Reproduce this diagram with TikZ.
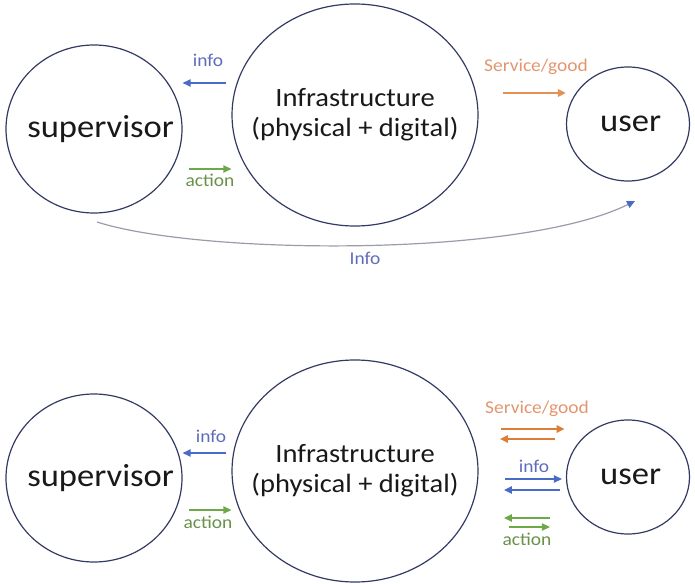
\documentclass[tikz,border=0pt]{standalone}
\usepackage{fontspec}
\setmainfont{Carlito}[FakeStretch=1.08]
\usetikzlibrary{arrows.meta,positioning,shapes.geometric,calc}
\definecolor{ringcol}{RGB}{50,58,100}
\definecolor{textcol}{RGB}{25,25,25}
\definecolor{infocol}{RGB}{72,108,198}
\definecolor{infotxt}{RGB}{95,108,188}
\definecolor{actcol}{RGB}{110,168,72}
\definecolor{acttxt}{RGB}{105,145,72}
\definecolor{servcol}{RGB}{222,125,55}
\definecolor{servtxt}{RGB}{226,150,110}
\definecolor{linkcol}{RGB}{155,155,170}

\begin{document}
\begin{tikzpicture}[x=0.75pt,y=-0.75pt,
    ring/.style={draw=ringcol,ellipse,line width=0.9pt,inner sep=0pt},
    big/.style={font=\fontsize{24}{28}\selectfont,text=textcol},
    mid/.style={font=\fontsize{19.8}{22.5}\selectfont,text=textcol,align=center},
    lbl/.style={font=\fontsize{13.5}{15}\selectfont,anchor=base},
    arr/.style={line width=1.1pt,-{Triangle[length=6pt,width=5.5pt]}}
  ]
  \useasboundingbox (0,0) rectangle (695,584);

  % one-way setting
  \node[ring,minimum width=132pt,minimum height=126pt,label={[big,xshift=5pt]center:supervisor}] (supA) at (94,129) {};
  \node[ring,minimum width=184.5pt,minimum height=166.5pt,label={[mid]center:Infrastructure\\(physical + digital)}] (infA) at (355,115) {};
  \node[ring,minimum width=92.25pt,minimum height=85.5pt,label={[big,xshift=2pt]center:user}] (useA) at (628,124) {};

  \draw[arr,infocol,shorten <=4pt] (infA.west |- 0,83) -- (supA.east |- 0,83);
  \node[lbl,text=infotxt] (infoA) at (208,67) {info};
  \draw[arr,actcol,shorten <=5pt] (supA.east |- 0,169) -- (infA.west |- 0,169);
  \node[lbl,text=acttxt] (actA) at (210,187) {action};
  \draw[arr,servcol!85,line width=1.8pt,shorten <=18pt] (infA.east |- 0,93) -- (useA.west |- 0,93);
  \node[lbl,text=servtxt] (servA) at (536,72) {Service/good};

  \coordinate (linkS) at (97,222);
  \coordinate (linkE) at (635,201);
  \draw[line width=0.9pt,linkcol,-{Triangle[length=6pt,width=5.5pt,color=infocol]}] (linkS) .. controls (200,255) and (520,258) .. (linkE);
  \node[lbl,text=infotxt] (linkL) at (365,265) {Info};

  % two-way setting
  \node[ring,minimum width=132pt,minimum height=126pt,label={[big,xshift=5pt]center:supervisor}] (supB) at (94,478) {};
  \node[ring,minimum width=184.5pt,minimum height=166.5pt,label={[mid]center:Infrastructure\\(physical + digital)}] (infB) at (355,471) {};
  \node[ring,minimum width=92.25pt,minimum height=85.5pt,label={[big,xshift=2pt]center:user}] (useB) at (628,477) {};

  \draw[arr,infocol,shorten <=4pt] (infB.west |- 0,453) -- (supB.east |- 0,453);
  \node[lbl,text=infotxt] (infoB) at (211,442) {info};
  \draw[arr,actcol,shorten <=5pt] (supB.east |- 0,510) -- (infB.west |- 0,510);
  \node[lbl,text=acttxt] (actB) at (208,528) {action};

  \draw[arr,servcol,line width=1.5pt,shorten <=16.5pt,shorten >=1pt] (infB.east |- 0,429) -- (useB.west |- 0,429);
  \draw[arr,servcol,line width=1.5pt,shorten <=8pt,shorten >=16pt] (useB.west |- 0,439) -- (infB.east |- 0,439);
  \node[lbl,text=servtxt] (servB) at (537,413) {Service/good};

  \draw[arr,infocol,shorten <=20pt,shorten >=3pt] (infB.east |- 0,479) -- (useB.west |- 0,479);
  \draw[arr,infocol,shorten <=4.5pt,shorten >=19pt] (useB.west |- 0,490) -- (infB.east |- 0,490);
  \node[lbl,text=infotxt] (infoC) at (534,472) {info};

  \draw[arr,actcol,shorten <=12pt,shorten >=19pt] (useB.west |- 0,518) -- (infB.east |- 0,518);
  \draw[arr,actcol,shorten <=22.5pt,shorten >=12pt] (infB.east |- 0,527) -- (useB.west |- 0,527);
  \node[lbl,text=acttxt] (actC) at (527,545) {action};
\end{tikzpicture}
\end{document}
